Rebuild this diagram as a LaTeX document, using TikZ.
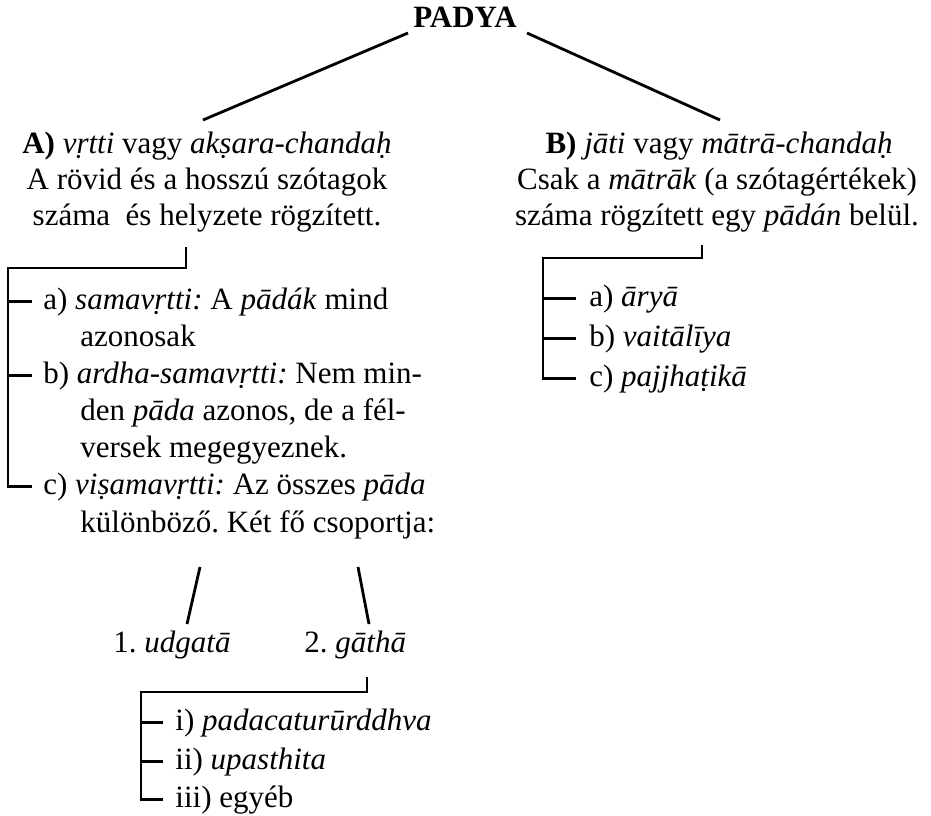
\documentclass[tikz,border=0pt]{standalone}
\usepackage{fontspec}
\setmainfont{Liberation Serif}
\usetikzlibrary{positioning}

\tikzset{
  txt/.style={font=\fontsize{15.5}{18}\selectfont\frenchspacing, inner sep=0pt},
  line/.style={line width=1.4pt}
}

\begin{document}
\begin{tikzpicture}[x=.5pt, y=-.5pt]
            \useasboundingbox (0,0) rectangle (931,815);

            % top
            \node[txt, font=\fontsize{15.5}{18}\selectfont\bfseries, anchor=base] (padya) at (465,27) {PADYA};
            \coordinate (padyaL) at (408,33);
            \coordinate (padyaR) at (527,33);
            \coordinate (Atop) at (203,120);
            \coordinate (Btop) at (720,120);
            \draw[line] (padyaL) -- (Atop);
            \draw[line] (padyaR) -- (Btop);

            % A) branch
            \node[txt, anchor=base] (A1) at (207,153) {\textbf{A)} \textit{vṛtti} vagy \textit{akṣara-chandaḥ}};
            \node[txt, anchor=base] (A2) at (207,189) {A rövid és a hosszú szótagok};
            \node[txt, anchor=base] (A3) at (207,225) {száma\ \ és helyzete rögzített.};

            \node[txt, anchor=base west] (a1) at (43,309) {a) \textit{samavṛtti:} A \textit{pādák} mind};
            \node[txt, anchor=base west] (a1b) at (80,346) {azonosak};
            \node[txt, anchor=base west] (a2) at (43,383) {b) \textit{ardha-samavṛtti:} Nem min-};
            \node[txt, anchor=base west] (a2b) at (80,420) {den \textit{pāda} azonos, de a fél-};
            \node[txt, anchor=base west] (a2c) at (80,457) {versek megegyeznek.};
            \node[txt, anchor=base west] (a3) at (43,494) {c) \textit{viṣamavṛtti:} Az összes \textit{pāda}};
            \node[txt, anchor=base west] (a3b) at (80,532) {különböző. Két fő csoportja:};

            \coordinate (Astem) at (186,247);
            \coordinate (Acorner) at (8,268);
            \draw[line] (Astem) |- (Acorner) |- ([xshift=-5.5pt]a3.west);
            \draw[line] (Acorner |- a1.west) -- ([xshift=-5.5pt]a1.west);
            \draw[line] (Acorner |- a2.west) -- ([xshift=-5.5pt]a2.west);

            % c) groups
            \node[txt, anchor=base west] (g1) at (113,652) {1. \textit{udgatā}};
            \node[txt, anchor=base west] (g2) at (304,652) {2. \textit{gāthā}};
            \coordinate (g1top) at (200,567);
            \coordinate (g2top) at (358,567);
            \draw[line] (g1top) -- ([yshift=3pt]g1.north -| 187,0);
            \draw[line] (g2top) -- ([yshift=3pt]g2.north -| 369,0);

            \node[txt, anchor=base west] (i1) at (175,730) {i) \textit{padacaturūrddhva}};
            \node[txt, anchor=base west] (i2) at (175,769) {ii) \textit{upasthita}};
            \node[txt, anchor=base west] (i3) at (175,807) {iii) egyéb};

            \coordinate (Gstem) at (367,677);
            \coordinate (Gcorner) at (141,692);
            \draw[line] (Gstem) |- (Gcorner) |- ([xshift=-6pt]i3.west);
            \draw[line] (Gcorner |- i1.west) -- ([xshift=-6pt]i1.west);
            \draw[line] (Gcorner |- i2.west) -- ([xshift=-6pt]i2.west);

            % B) branch
            \node[txt, anchor=base] (B1) at (719,153) {\textbf{B)} \textit{jāti} vagy \textit{mātrā-chandaḥ}};
            \node[txt, anchor=base] (B2) at (717,189) {Csak a \textit{mātrāk} (a szótagértékek)};
            \node[txt, anchor=base] (B3) at (717,225) {száma rögzített egy \textit{pādán} belül.};

            \node[txt, anchor=base west] (b1) at (589,306) {a) \textit{āryā}};
            \node[txt, anchor=base west] (b2) at (589,346) {b) \textit{vaitālīya}};
            \node[txt, anchor=base west] (b3) at (589,386) {c) \textit{pajjhaṭikā}};

            \coordinate (Bstem) at (702,245);
            \coordinate (Bcorner) at (543,258);
            \draw[line] (Bstem) |- (Bcorner) |- ([xshift=-6.5pt]b3.west);
            \draw[line] (Bcorner |- b1.west) -- ([xshift=-6.5pt]b1.west);
            \draw[line] (Bcorner |- b2.west) -- ([xshift=-6.5pt]b2.west);
        \end{tikzpicture}
\end{document}
